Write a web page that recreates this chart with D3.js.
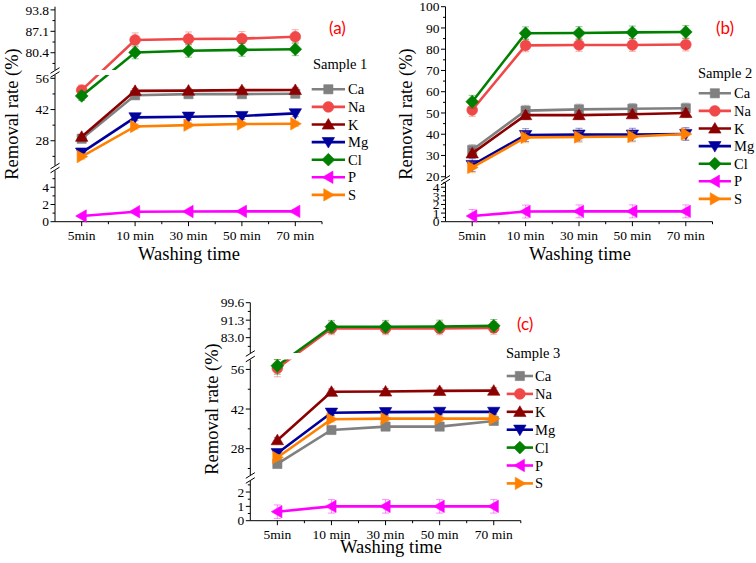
<!DOCTYPE html>
<html><head><meta charset="utf-8">
<script src="https://cdn.jsdelivr.net/npm/d3@7"></script>
<style>body{margin:0;background:#fff}svg{display:block}</style>
</head><body><svg id="chart" width="756" height="563"></svg>
<script>
// ---------------- DATA ----------------
const categories = ["5min", "10 min", "30 min", "50 min", "70 min"];
const elements = ["Ca", "Na", "K", "Mg", "Cl", "P", "S"];
const sampleNames = ["Sample 1", "Sample 2", "Sample 3"];
const panelTags = ["(a)", "(b)", "(c)"];

// removal rate (%) per element (rows: Ca, Na, K, Mg, Cl, P, S), columns = categories
const sample1 = [
  [28.9, 48.4, 48.9, 48.9, 49.1],
  [50.7, 84.4, 84.7, 84.8, 85.4],
  [29.8, 50.4, 50.5, 50.7, 50.8],
  [22.7, 38.5, 38.8, 39.1, 40.3],
  [48.1, 80.5, 81.0, 81.3, 81.5],
  [0.66, 1.16, 1.18, 1.20, 1.20],
  [20.9, 34.4, 35.0, 35.5, 35.6]
];
const sample2 = [
  [32.6, 51.1, 51.7, 52.0, 52.2],
  [51.4, 81.8, 82.0, 82.0, 82.2],
  [31.0, 49.0, 49.0, 49.4, 50.0],
  [25.5, 39.6, 39.8, 39.8, 40.1],
  [55.3, 87.5, 87.6, 87.9, 88.1],
  [0.66, 1.18, 1.20, 1.20, 1.20],
  [24.4, 38.5, 38.7, 38.9, 40.1]
];
const sample3 = [
  [22.6, 34.6, 35.8, 35.8, 37.8],
  [56.4, 87.4, 87.4, 87.4, 87.6],
  [31.0, 48.1, 48.2, 48.4, 48.5],
  [26.4, 40.7, 40.9, 41.0, 41.0],
  [57.3, 88.2, 88.2, 88.3, 88.6],
  [0.63, 1.00, 1.00, 1.00, 1.00],
  [24.9, 38.4, 38.6, 38.6, 38.6]
];
// error bar half-widths per element
const err1 = [1.2, 2.2, 1.0, 1.5, 2.0, 0.15, 1.2];
const err2 = [2.5, 3.0, 2.0, 3.0, 3.0, 0.75, 2.5];
const err3 = [1.0, 3.0, 1.0, 1.0, 3.0, 0.47, 1.0];

// broken y-axis segments (top segment first)
const yDomains1 = [[75.0, 94.8], [16.9, 57.5], [0, 5.95]];
const yMajor1 = [[80.4, 87.1, 93.8], [28, 42, 56], [0, 2, 4]];
const yMinor1 = [[77.05, 83.75, 90.45], [21, 35, 49], [1, 3, 5]];
const yDomains2 = [[19.5, 100], [0, 4.55]];
const yMajor2 = [[20, 30, 40, 50, 60, 70, 80, 90, 100], [0, 1, 2, 3, 4]];
const yMinor2 = [[25, 35, 45, 55, 65, 75, 85, 95], [0.5, 1.5, 2.5, 3.5, 4.5]];
const yDomains3 = [[75.7, 99.6], [18.7, 59.5], [0, 2.77]];
const yMajor3 = [[83.0, 91.3, 99.6], [28, 42, 56], [0, 1, 2]];
const yMinor3 = [[78.85, 87.15, 95.45], [21, 35, 49], [0.5, 1.5, 2.5]];
const yFormats1 = [".1f", "d", "d"];
const yFormats2 = ["d", "d"];
const yFormats3 = [".1f", "d", "d"];

// ---------------- STYLE / LAYOUT ----------------
const colors = ["#808080", "#f04848", "#8b0000", "#00009c", "#008000", "#ff00ff", "#ff8000"];
const shapes = ["square", "circle", "triUp", "triDown", "diamond", "triLeft", "triRight"];
const shapePath = {
  square: "M-4.6,-4.6h9.2v9.2h-9.2Z",
  circle: "M5.4,0A5.4,5.4 0 1,1 -5.4,0A5.4,5.4 0 1,1 5.4,0Z",
  triUp: "M0,-6L6.2,4.6L-6.2,4.6Z",
  triDown: "M0,6L6.2,-4.6L-6.2,-4.6Z",
  diamond: "M0,-6.4L6.4,0L0,6.4L-6.4,0Z",
  triLeft: "M-6,0L4.6,-6.2L4.6,6.2Z",
  triRight: "M6,0L-4.6,-6.2L-4.6,6.2Z"
};
const serif = "Liberation Serif";

const panels = [
  { values: sample1, err: err1, domains: yDomains1, majors: yMajor1, minors: yMinor1, fmts: yFormats1,
    xRange: [55, 322], yRanges: [[70, 6.7], [75, 165.5], [170.5, 221.7]],
    tickY: 240, title: [189, 259.5], ylab: [12, 114],
    legend: { x0: 311.7, x1: 345, tx: 348, titleX: 313, titleY: 69, y0: 89.3, dy: 17.6 },
    tag: [329, 34] },
  { values: sample2, err: err2, domains: yDomains2, majors: yMajor2, minors: yMinor2, fmts: yFormats2,
    xRange: [445.5, 712.5], yRanges: [[177.8, 6.7], [182.5, 221.7]],
    tickY: 240, title: [580, 259.5], ylab: [406, 114],
    legend: { x0: 698.7, x1: 731, tx: 734, titleX: 698, titleY: 78, y0: 93.3, dy: 17.6 },
    tag: [716, 34] },
  { values: sample3, err: err3, domains: yDomains3, majors: yMajor3, minors: yMinor3, fmts: yFormats3,
    xRange: [250.3, 520.8], yRanges: [[353, 302.7], [359.5, 475], [481, 520.7]],
    tickY: 539, title: [391, 553], ylab: [212, 409],
    legend: { x0: 506.7, x1: 533, tx: 535, titleX: 506, titleY: 358, y0: 376, dy: 17.9 },
    tag: [517, 330] }
];

const svg = d3.select("#chart");
svg.append("rect").attr("width", 756).attr("height", 563).attr("fill", "#fff");

panels.forEach((p, pi) => {
  const g = svg.append("g");
  const axisX = p.xRange[0];
  const x = d3.scaleLinear().domain([0.5, 5.5]).range(p.xRange);
  const segs = p.domains.map((d, i) => d3.scaleLinear().domain(d)
    .range([Math.max(...p.yRanges[i]), Math.min(...p.yRanges[i])]));
  const segOf = v => {
    let best = 0, bd = Infinity;
    segs.forEach((s, i) => {
      const [a, b] = s.domain();
      const dd = v < a ? a - v : (v > b ? v - b : 0);
      if (dd < bd) { bd = dd; best = i; }
    });
    return best;
  };
  const y = v => segs[segOf(v)](v);
  const bottomY = segs[segs.length - 1].range()[0];

  // clip path for lines (gaps at the axis breaks)
  const clipId = "clip" + pi;
  const cp = svg.append("clipPath").attr("id", clipId);
  segs.forEach(s => {
    const r = s.range();
    cp.append("rect").attr("x", axisX + 1).attr("y", Math.min(r[0], r[1]))
      .attr("width", p.xRange[1] - axisX + 30).attr("height", Math.abs(r[0] - r[1]));
  });

  // y axis segments
  segs.forEach((s, i) => {
    const r = s.range();
    g.append("line").attr("x1", axisX).attr("x2", axisX).attr("y1", r[0]).attr("y2", r[1])
      .attr("stroke", "#000").attr("stroke-width", 1);
    const fmt = d3.format(p.fmts[i]);
    p.majors[i].forEach(t => {
      g.append("line").attr("x1", axisX - 4.5).attr("x2", axisX).attr("y1", s(t)).attr("y2", s(t))
        .attr("stroke", "#000").attr("stroke-width", 1);
      g.append("text").attr("x", axisX - 6).attr("y", s(t)).attr("dy", "0.35em")
        .attr("text-anchor", "end").attr("font-family", serif).attr("font-size", 13.5)
        .attr("fill", "#000").text(fmt(t));
    });
    p.minors[i].forEach(t => {
      g.append("line").attr("x1", axisX - 2.5).attr("x2", axisX).attr("y1", s(t)).attr("y2", s(t))
        .attr("stroke", "#000").attr("stroke-width", 1);
    });
  });
  // break marks
  for (let i = 0; i < segs.length - 1; i++) {
    const yA = segs[i].range()[0], yB = segs[i + 1].range()[1];
    [yA + 0.5, yB - 0.5].forEach(by => {
      g.append("line").attr("x1", axisX - 4.5).attr("x2", axisX + 4.5)
        .attr("y1", by + 2.8).attr("y2", by - 2.8).attr("stroke", "#000").attr("stroke-width", 1);
    });
  }
  // x axis
  g.append("line").attr("x1", p.xRange[0]).attr("x2", p.xRange[1]).attr("y1", bottomY).attr("y2", bottomY)
    .attr("stroke", "#000").attr("stroke-width", 1);
  categories.forEach((c, i) => {
    const xx = x(i + 1);
    g.append("line").attr("x1", xx).attr("x2", xx).attr("y1", bottomY).attr("y2", bottomY + 4.5)
      .attr("stroke", "#000");
    g.append("text").attr("x", xx).attr("y", p.tickY).attr("text-anchor", "middle")
      .attr("font-family", serif).attr("font-size", 13.5).attr("fill", "#000").text(c);
  });
  [1.5, 2.5, 3.5, 4.5, 5.5].forEach(t => {
    g.append("line").attr("x1", x(t)).attr("x2", x(t)).attr("y1", bottomY).attr("y2", bottomY + 2.5)
      .attr("stroke", "#000");
  });
  // titles
  g.append("text").attr("x", p.title[0]).attr("y", p.title[1]).attr("text-anchor", "middle")
    .attr("font-family", serif).attr("font-size", 18.5).attr("fill", "#000").text("Washing time");
  g.append("text").attr("transform", `translate(${p.ylab[0]},${p.ylab[1]}) rotate(-90)`)
    .attr("text-anchor", "middle").attr("dy", "0.35em")
    .attr("font-family", serif).attr("font-size", 18.5).attr("fill", "#000").text("Removal rate (%)");
  g.append("text").attr("x", p.tag[0]).attr("y", p.tag[1]).attr("font-family", "Lato")
    .attr("font-size", 17).attr("fill", "#ff0000").text(panelTags[pi]);

  // series
  const lineGen = d3.line().x((d, i) => x(i + 1)).y(d => y(d));
  elements.forEach((el, ei) => {
    const vals = p.values[ei];
    const col = colors[ei];
    const e = p.err[ei];
    const sg = g.append("g");
    vals.forEach((v, i) => {
      const s = segs[segOf(v)];
      const [a, b] = s.domain();
      const lo = s(Math.max(a, v - e)), hi = s(Math.min(b, v + e));
      const xx = x(i + 1);
      sg.append("line").attr("x1", xx).attr("x2", xx).attr("y1", lo).attr("y2", hi)
        .attr("stroke", col).attr("stroke-opacity", 0.45).attr("stroke-width", 1);
      [lo, hi].forEach(yy => sg.append("line").attr("x1", xx - 3.5).attr("x2", xx + 3.5)
        .attr("y1", yy).attr("y2", yy).attr("stroke", col).attr("stroke-opacity", 0.45).attr("stroke-width", 1));
    });
    sg.append("path").attr("d", lineGen(vals)).attr("fill", "none").attr("stroke", col)
      .attr("stroke-width", 2.6).attr("clip-path", `url(#${clipId})`);
    vals.forEach((v, i) => {
      sg.append("path").attr("d", shapePath[shapes[ei]])
        .attr("transform", `translate(${x(i + 1)},${y(v)})`)
        .attr("fill", col).attr("stroke", col).attr("stroke-width", 0.6);
    });
  });

  // legend
  const L = p.legend;
  g.append("text").attr("x", L.titleX).attr("y", L.titleY).attr("font-family", serif)
    .attr("font-size", 14.5).attr("fill", "#000").text(sampleNames[pi]);
  elements.forEach((el, ei) => {
    const yy = L.y0 + ei * L.dy;
    g.append("line").attr("x1", L.x0).attr("x2", L.x1).attr("y1", yy).attr("y2", yy)
      .attr("stroke", colors[ei]).attr("stroke-width", 2.6);
    g.append("path").attr("d", shapePath[shapes[ei]])
      .attr("transform", `translate(${(L.x0 + L.x1) / 2},${yy})`)
      .attr("fill", colors[ei]).attr("stroke", colors[ei]).attr("stroke-width", 0.6);
    g.append("text").attr("x", L.tx).attr("y", yy).attr("dy", "0.35em").attr("font-family", serif)
      .attr("font-size", 14.5).attr("fill", "#000").text(el);
  });
});
</script></body></html>
